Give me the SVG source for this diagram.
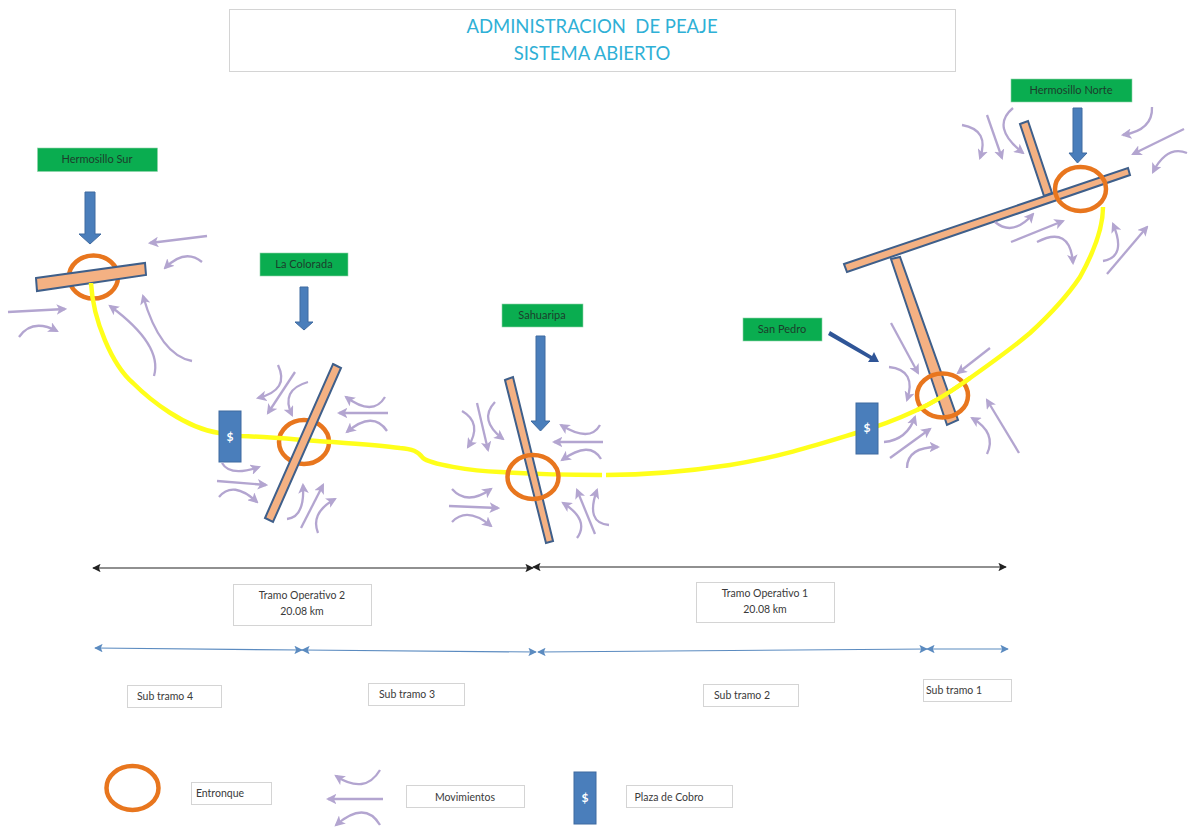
<svg xmlns="http://www.w3.org/2000/svg" width="1193" height="830" viewBox="0 0 1193 830">
<style>
text{font-family:Lato,"Liberation Sans",sans-serif;text-anchor:middle;fill:#3a3a3a;font-size:10.5px}
.lbl{fill:#1c3d2c;font-size:11px}
.title{fill:#2fb0d6;font-size:18.5px}
.box{fill:#fff;stroke:#d4d4d4;stroke-width:1}
.green{fill:#0aad50;stroke:#8fd3a8;stroke-width:.6}
.road{fill:#f4b183;stroke:#3f5f8a;stroke-width:2}
.ring{fill:none;stroke:#e8761e;stroke-width:4.5}
.yellow{fill:none;stroke:#ffff1a;stroke-width:4.5}
.blue{fill:#4a7ebb;stroke:#3f6aa0;stroke-width:1}
.mv{fill:none;stroke:#b3a5d0;stroke-width:2.3;marker-end:url(#mv)}
.dim{fill:none;stroke:#222;stroke-width:1.2;marker-start:url(#blk);marker-end:url(#blk)}
.sub{fill:none;stroke:#5b8bc0;stroke-width:1.2;marker-start:url(#blu);marker-end:url(#blu)}
.dollar{fill:#fff;font-size:12px;font-weight:700}
</style>
<defs>
<marker id="mv" viewBox="0 0 10 10" refX="8" refY="5" markerWidth="4.6" markerHeight="4.6" orient="auto" markerUnits="strokeWidth"><path d="M0,0 L10,5 L0,10 L2.5,5 Z" fill="#b3a5d0"/></marker>
<marker id="blk" viewBox="0 0 10 10" refX="9" refY="5" markerWidth="8" markerHeight="7" orient="auto-start-reverse" markerUnits="strokeWidth"><path d="M0,0 L10,5 L0,10 L2,5 Z" fill="#222"/></marker>
<marker id="blu" viewBox="0 0 10 10" refX="9" refY="5" markerWidth="8" markerHeight="7" orient="auto-start-reverse" markerUnits="strokeWidth"><path d="M0,0 L10,5 L0,10 L2,5 Z" fill="#5b8bc0"/></marker>
</defs>

<g id="title"><rect class="box" x="229.500" y="9.500" width="726" height="62"/><text class="title" x="592" y="33" xml:space="preserve">ADMINISTRACION  DE PEAJE</text><text class="title" x="592" y="60">SISTEMA ABIERTO</text></g>

<g id="ring-colorada-ring"><ellipse class="ring" cx="304" cy="442" rx="25" ry="22"/></g>
<g id="hsur-base"><ellipse class="ring" cx="93.500" cy="277" rx="24.500" ry="21.500"/><polygon class="road" points="36,278 145,263 146,275 37,291"/></g>

<g id="connectors">
<path class="yellow" d="M91,283 C93,320 112,365 133,383 C150,400 185,428 219,433 L241,436 C275,437 310,441 333,442 C360,444 385,446 400,448 C412,449 418,451 423,458 C430,464 470,471 500,472 C530,474 570,475 602,475"/>
<path class="yellow" d="M606,475 C640,475 690,471 730,465 C780,457 820,444 856,433 C880,426 900,418 917,410 C935,402 950,392 963,383 C990,364 1010,350 1030,333 C1055,310 1070,292 1080,277 C1095,250 1103,225 1103,207"/>
<line class="dim" x1="93" y1="568" x2="533" y2="568"/>
<line class="dim" x1="533" y1="567" x2="1006" y2="567"/>
<line class="sub" x1="95" y1="648" x2="302" y2="650"/>
<line class="sub" x1="302" y1="650" x2="536" y2="652"/>
<line class="sub" x1="538" y1="652" x2="927" y2="649"/>
<line class="sub" x1="927" y1="649" x2="1008" y2="649"/>
</g>

<g id="hermosillo-sur">
<rect class="green" x="37.500" y="148" width="120" height="23.500"/><text class="lbl" x="97" y="163">Hermosillo Sur</text>
<polygon class="blue" points="85,192 95,192 95,234 101,234 90,244 79,234 85,234"/>
<path class="mv" d="M207,236 L150,243"/><path class="mv" d="M202,262 Q185,248 165,268"/>
<path class="mv" d="M8,312 L65,309"/><path class="mv" d="M19,337 Q32,318 57,331"/>
<path class="mv" d="M154,376 Q163,345 110,306"/><path class="mv" d="M192,361 Q160,355 143,296"/>
</g>

<g id="la-colorada">
<polygon class="road" points="333,364 341,368 273,522 265,518"/>
<rect class="green" x="260" y="253" width="88" height="23"/><text class="lbl" x="304" y="268">La Colorada</text>
<polygon class="blue" points="300,287 308,287 308,322 313,322 304,330 295,322 300,322"/>
<rect class="blue" x="219" y="411" width="22" height="51"/><text class="dollar" x="230" y="441">$</text>
<path class="mv" d="M278,365 Q290,390 258,398"/><path class="mv" d="M295,372 L268,413"/><path class="mv" d="M308,382 Q280,390 292,415"/>
<path class="mv" d="M385,397 Q373,417 346,397"/><path class="mv" d="M388,413 L339,413"/><path class="mv" d="M387,431 Q373,410 347,432"/>
<path class="mv" d="M222,463 Q230,477 259,467"/><path class="mv" d="M217,481 L266,485"/><path class="mv" d="M219,497 Q233,480 257,502"/>
<path class="mv" d="M287,519 Q305,517 303,485"/><path class="mv" d="M301,528 L323,485"/><path class="mv" d="M318,533 Q310,513 335,499"/>
</g>

<g id="sahuaripa">
<polygon class="road" points="505,380 513,377 553,541 546,543"/>
<ellipse class="ring" cx="533" cy="477" rx="25.500" ry="22"/>
<rect class="green" x="502" y="304" width="81" height="23"/><text class="lbl" x="542" y="319">Sahuaripa</text>
<polygon class="blue" points="536,336 545,336 545,421 550,421 540.500,431 531,421 536,421"/>
<path class="mv" d="M462,411 Q483,423 468,447"/><path class="mv" d="M477,403 L488,450"/><path class="mv" d="M495,402 Q478,420 503,439"/>
<path class="mv" d="M600,425 Q590,443 561,425"/><path class="mv" d="M603,442 L554,442"/><path class="mv" d="M601,459 Q590,440 562,460"/>
<path class="mv" d="M452,489 Q467,506 491,489"/><path class="mv" d="M449,506 L498,508"/><path class="mv" d="M452,522 Q467,506 491,526"/>
<path class="mv" d="M577,538 Q590,520 563,503"/><path class="mv" d="M595,534 L577,490"/><path class="mv" d="M609,525 Q585,523 597,490"/>
</g>

<g id="san-pedro">
<rect class="green" x="743" y="318" width="79" height="23"/><text class="lbl" x="782" y="333">San Pedro</text>
<polygon points="830,331 872,356 874,352 879,362 868,362 870,359 828,335" fill="#2f5597"/>
<rect class="blue" x="856" y="403" width="22" height="51"/><text class="dollar" x="867" y="432">$</text>
<path class="mv" d="M891,323 L918,373"/><path class="mv" d="M889,367 Q917,370 907,400"/><path class="mv" d="M990,348 L958,373"/>
<path class="mv" d="M884,442 Q907,440 915,417"/><path class="mv" d="M890,458 L930,429"/><path class="mv" d="M907,468 Q907,447 938,447"/>
<path class="mv" d="M987,454 Q997,433 972,418"/><path class="mv" d="M1019,453 L987,400"/>
</g>

<g id="hermosillo-norte">
<polygon class="road" points="1020,124 1028,121 1052,193 1044,196"/>
<polygon class="road" points="891,259 900,257 958,420 947,425"/>
<polygon class="road" points="844,264 1128,168 1130,175 847,272"/>
<ellipse class="ring" cx="1080.500" cy="189" rx="25.500" ry="22"/>
<ellipse class="ring" cx="942.500" cy="395.500" rx="25.500" ry="22"/>
<path class="yellow" d="M917,410 C935,402 950,392 963,383 L970,378"/>
<rect class="green" x="1011" y="79" width="121" height="23"/><text class="lbl" x="1071" y="94">Hermosillo Norte</text>
<polygon class="blue" points="1073,108 1082,108 1082,153 1087,153 1077.500,163 1069,153 1073,153"/>
<path class="mv" d="M962,125 Q990,130 980,158"/><path class="mv" d="M987,115 L1002,158"/><path class="mv" d="M1013,108 Q990,127 1023,153"/>
<path class="mv" d="M1152,107 Q1153,130 1123,135"/><path class="mv" d="M1184,129 L1133,154"/><path class="mv" d="M1187,153 Q1167,145 1153,172"/>
<path class="mv" d="M995,222 Q1013,237 1033,214"/><path class="mv" d="M1011,242 L1063,221"/><path class="mv" d="M1037,242 Q1070,225 1073,263"/>
<path class="mv" d="M1103,261 Q1127,257 1113,224"/><path class="mv" d="M1107,274 L1147,227"/>
</g>

<g id="colorada-road-top"><path class="yellow" d="M277,438 L304,440" opacity="0"/></g>

<g id="tramo-2"><rect class="box" x="233.500" y="584.500" width="138" height="41"/><text x="302" y="599">Tramo Operativo 2</text><text x="302" y="615">20.08 km</text></g>
<g id="tramo-1"><rect class="box" x="696.500" y="582.500" width="138" height="40"/><text x="765" y="597">Tramo Operativo 1</text><text x="765" y="613">20.08 km</text></g>
<g id="sub-4"><rect class="box" x="127.500" y="685.500" width="94" height="22"/><text x="165" y="700">Sub tramo 4</text></g>
<g id="sub-3"><rect class="box" x="368.500" y="683.500" width="96" height="22"/><text x="407" y="698">Sub tramo 3</text></g>
<g id="sub-2"><rect class="box" x="703.500" y="684.500" width="95" height="22"/><text x="742" y="699">Sub tramo 2</text></g>
<g id="sub-1"><rect class="box" x="923.500" y="679.500" width="88" height="22"/><text x="954" y="694">Sub tramo 1</text></g>

<g id="legend-entronque"><ellipse class="ring" cx="132.500" cy="788" rx="26" ry="22"/><rect class="box" x="191.500" y="782.500" width="80" height="22"/><text x="220" y="797">Entronque</text></g>
<g id="legend-movimientos"><path class="mv" d="M383,799 L328,799"/><path class="mv" d="M380,770 Q365,795 336,776"/><path class="mv" d="M380,825 Q365,800 336,825"/><rect class="box" x="406.500" y="785.500" width="118" height="22"/><text x="465" y="801">Movimientos</text></g>
<g id="legend-plaza"><rect class="blue" x="574" y="772" width="22" height="52"/><text class="dollar" x="585" y="802">$</text><rect class="box" x="626.500" y="785.500" width="106" height="22"/><text x="669" y="801">Plaza de Cobro</text></g>
</svg>
